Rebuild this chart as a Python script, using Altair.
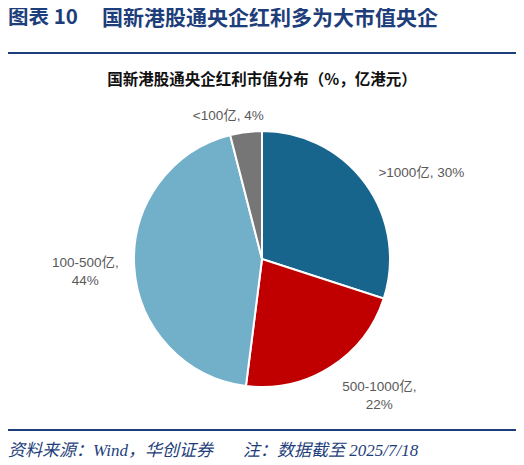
import altair as alt
import pandas as pd

categories = [">1000亿", "500-1000亿", "100-500亿", "<100亿"]
shares = [30, 22, 44, 4]
label_texts = [">1000亿, 30%", "500-1000亿,\n22%", "100-500亿,\n44%", "<100亿, 4%"]
colors = ["#17648c", "#c00000", "#72b0ca", "#767676"]

title_prefix = "图表 10"
title_main = "国新港股通央企红利多为大市值央企"
subtitle = "国新港股通央企红利市值分布（%，亿港元）"
footer_source = "资料来源：Wind，华创证券"
footer_note = "注：数据截至 2025/7/18"

NAVY = "#1d3e7a"
CJK = "Noto Sans CJK SC"
LABEL_FONT = "Liberation Sans, Noto Sans CJK SC"

df = pd.DataFrame({
    "cat": categories,
    "share": shares,
    "label": label_texts,
    "ord": list(range(len(categories))),
})

W, H = 508, 457
CX, CY, R = 254, 251, 128

theta_scale = alt.Scale(domain=[0, 100], range=[0, 6.283185307])

base = alt.Chart(df)

pie = base.mark_arc(outerRadius=R, stroke="white", strokeWidth=2).encode(
    theta=alt.Theta("share:Q", stack=True, scale=theta_scale),
    color=alt.Color("cat:N", scale=alt.Scale(domain=categories, range=colors), legend=None),
    order=alt.Order("ord:Q"),
    x=alt.value(CX),
    y=alt.value(CY),
)

# label placement styles per category: (radius, dx, dy)
label_style = {
    ">1000亿": (150, 38, 2),
    "500-1000亿": (150, 37, 1),
    "100-500亿": (150, -27, -5),
    "<100亿": (150, -15, 6),
}

label_layers = []
for cat in categories:
    rad, dx, dy = label_style[cat]
    layer = base.transform_window(
        cum="sum(share)", sort=[alt.SortField("ord")]
    ).transform_calculate(
        mid="datum.cum - datum.share / 2"
    ).transform_filter(
        alt.datum.cat == cat
    ).mark_text(
        radius=rad, dx=dx, dy=dy, fontSize=13.5, font=LABEL_FONT,
        color="#595959", lineBreak="\n", lineHeight=18, align="center", baseline="middle",
    ).encode(
        theta=alt.Theta("mid:Q", stack=None, scale=theta_scale),
        text="label:N",
        x=alt.value(CX),
        y=alt.value(CY),
    )
    label_layers.append(layer)


def text_layer(txt, x, y, **kw):
    return alt.Chart(pd.DataFrame({"t": [txt]})).mark_text(**kw).encode(
        text="t:N", x=alt.value(x), y=alt.value(y)
    )


def hline(y, width):
    return alt.Chart(pd.DataFrame({"a": [0]})).mark_rule(
        color=NAVY, strokeWidth=width
    ).encode(x=alt.value(-3), x2=alt.value(W + 1), y=alt.value(y))


t1 = text_layer(title_prefix, 0, 0, font=CJK, fontSize=20.5, fontWeight="bold",
                color=NAVY, align="left", baseline="top")
t2 = text_layer(title_main, 94, 0, font=CJK, fontSize=21, fontWeight="bold",
                color=NAVY, align="left", baseline="top")
line1 = hline(45, 2)
sub = text_layer(subtitle, 254, 72, font=CJK, fontSize=15.5, fontWeight="bold",
                 color="#111111", align="center", baseline="middle")
line2 = hline(422, 2)
foot1 = text_layer(footer_source, 0, 443, font="Liberation Serif, Noto Sans CJK SC", fontSize=17,
                   fontStyle="italic", color=NAVY, align="left", baseline="middle")
foot2 = text_layer(footer_note, 235, 443, font="Liberation Serif, Noto Sans CJK SC", fontSize=17,
                   fontStyle="italic", color=NAVY, align="left", baseline="middle")

chart = alt.layer(pie, *label_layers, t1, t2, line1, sub, line2, foot1, foot2).properties(
    width=W, height=H, autosize="none", padding=0
).configure_view(stroke=None)

chart.save("out.html", embed_options={"renderer": "svg", "actions": False})
